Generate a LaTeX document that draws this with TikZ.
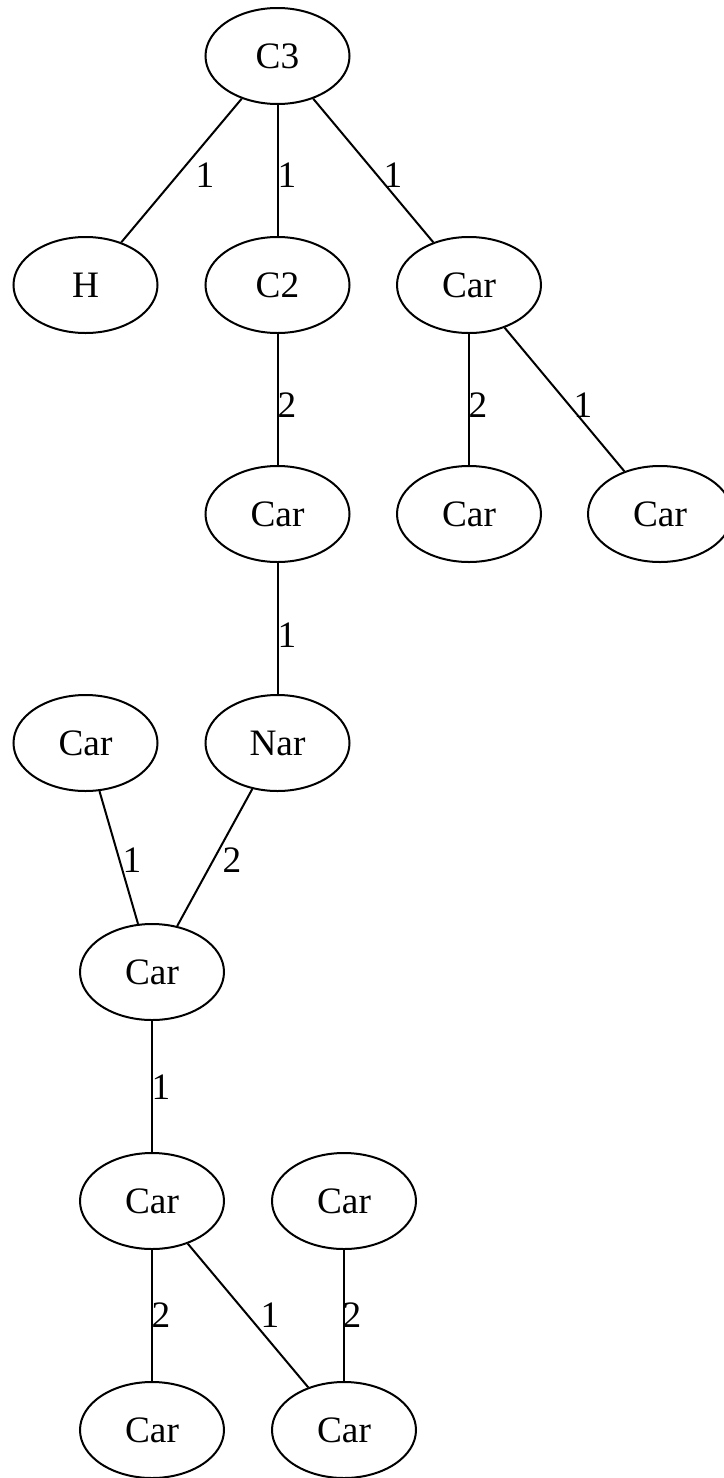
\documentclass[tikz,border=0pt]{standalone}
\usepackage{fontspec}
\setmainfont{Liberation Serif}
\usetikzlibrary{shapes.geometric}
\begin{document}
\begin{tikzpicture}[x=1pt,y=-1pt,
  atom/.style={ellipse,draw,line width=2pt,minimum width=144pt,minimum height=96pt,inner sep=0pt,font=\fontsize{37.3}{44}\selectfont},
  bond/.style={line width=2pt},
  blabel/.style={inner sep=0pt,font=\fontsize{37.3}{44}\selectfont}]
\useasboundingbox (0,0) rectangle (723,1478);
% nodes
\node[atom] (c3) at (277.5,56) {C3};
\node[atom] (h) at (85.5,285) {H};
\node[atom] (c2) at (277.5,285) {C2};
\node[atom] (car1) at (469,285) {Car};
\node[atom] (car2) at (277.5,514) {Car};
\node[atom] (car3) at (469,514) {Car};
\node[atom] (car4) at (660,514) {Car};
\node[atom] (car5) at (85.5,743) {Car};
\node[atom] (nar) at (277.5,743) {Nar};
\node[atom] (car6) at (152,972) {Car};
\node[atom] (car7) at (152,1201) {Car};
\node[atom] (car8) at (344,1201) {Car};
\node[atom] (car9) at (152,1430) {Car};
\node[atom] (car10) at (344,1430) {Car};
% edges
\draw[bond] (c3) -- (h);
\draw[bond] (c3) -- (c2);
\draw[bond] (c3) -- (car1);
\draw[bond] (c2) -- (car2);
\draw[bond] (car1) -- (car3);
\draw[bond] (car1) -- (car4);
\draw[bond] (car2) -- (nar);
\draw[bond] (car5) -- (car6);
\draw[bond] (nar) -- (car6);
\draw[bond] (car6) -- (car7);
\draw[bond] (car7) -- (car9);
\draw[bond] (car7) -- (car10);
\draw[bond] (car8) -- (car10);
% edge labels
\node[blabel] (l1) at (205,175) {1};
\node[blabel] (l2) at (287,175) {1};
\node[blabel] (l3) at (393,175) {1};
\node[blabel] (l4) at (287,405) {2};
\node[blabel] (l5) at (478,405) {2};
\node[blabel] (l6) at (583,405) {1};
\node[blabel] (l7) at (287,635) {1};
\node[blabel] (l8) at (132,860) {1};
\node[blabel] (l9) at (232,860) {2};
\node[blabel] (l10) at (161,1087) {1};
\node[blabel] (l11) at (161,1315) {2};
\node[blabel] (l12) at (270,1315) {1};
\node[blabel] (l13) at (352,1315) {2};
\end{tikzpicture}
\end{document}
